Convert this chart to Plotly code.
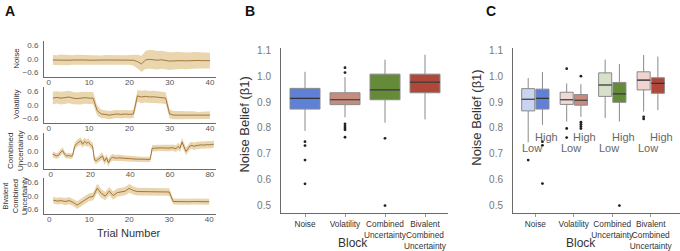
import plotly.graph_objects as go

W, H = 680, 251
FONT = "Liberation Sans, Arial, sans-serif"

# ---------------- Panel A data ----------------
trials_40 = list(range(1, 41))
trials_82 = list(range(1, 83))

noise_mean = [-0.05, -0.06, -0.04, -0.05, -0.06, -0.05, -0.04, -0.05, -0.05, -0.06,
              -0.05, -0.05, -0.06, -0.05, -0.05, -0.05, -0.05, -0.05, -0.05, -0.04,
              -0.06, -0.12, -0.22, -0.05, -0.02, -0.04, -0.06, -0.04, -0.08, -0.10,
              -0.09, -0.07, -0.08, -0.09, -0.08, -0.06, -0.07, -0.08, -0.09, -0.08]
noise_sd = [0.22, 0.22, 0.23, 0.22, 0.22, 0.21, 0.22, 0.22, 0.21, 0.22,
            0.22, 0.21, 0.21, 0.22, 0.21, 0.21, 0.22, 0.21, 0.21, 0.22,
            0.24, 0.30, 0.36, 0.40, 0.42, 0.42, 0.41, 0.40, 0.40, 0.39,
            0.38, 0.38, 0.37, 0.37, 0.36, 0.36, 0.36, 0.35, 0.35, 0.35]

vol_mean = [0.30, 0.33, 0.30, 0.32, 0.35, 0.30, 0.28, 0.30, 0.32, 0.30,
            0.30, -0.25, -0.40, -0.42, -0.45, -0.42, -0.40, -0.42, -0.40, -0.42,
            -0.40, 0.40, 0.35, 0.38, 0.35, 0.36, 0.33, 0.32, 0.30, -0.40,
            -0.45, -0.45, -0.45, -0.47, -0.45, -0.45, -0.48, -0.47, -0.45, -0.45]
vol_sd = [0.28, 0.27, 0.28, 0.27, 0.28, 0.27, 0.27, 0.28, 0.27, 0.27,
          0.27, 0.22, 0.19, 0.18, 0.18, 0.18, 0.18, 0.18, 0.18, 0.18,
          0.18, 0.26, 0.28, 0.27, 0.27, 0.27, 0.27, 0.26, 0.26, 0.20,
          0.18, 0.18, 0.17, 0.17, 0.17, 0.17, 0.17, 0.17, 0.17, 0.17]

comb_mean = [-0.14, -0.20, -0.22, -0.18, -0.05, 0.02, -0.15, -0.22, -0.20, -0.23,
             -0.20, 0.20, 0.32, 0.38, 0.45, 0.30, 0.42, 0.35, 0.38, 0.28,
             0.22, -0.40, -0.42, -0.36, -0.30, -0.22, -0.45, -0.30, -0.52, -0.35,
             -0.28, -0.30, -0.32, -0.30, -0.31, -0.32, -0.33, -0.33, -0.34, -0.34,
             -0.35, -0.35, -0.36, -0.36, -0.36, -0.37, -0.37, -0.37, -0.37, -0.37,
             0.12, 0.13, 0.14, 0.12, 0.13, 0.14, 0.13, 0.12, 0.14, 0.13,
             0.15, 0.12, 0.10, 0.20, 0.12, 0.40, 0.18, -0.02, 0.10, 0.22,
             0.25, 0.20, 0.24, 0.26, 0.25, 0.27, 0.26, 0.28, 0.28, 0.27,
             0.29, 0.30]
comb_sd = [0.13, 0.13, 0.12, 0.13, 0.14, 0.14, 0.13, 0.12, 0.12, 0.12,
           0.12, 0.15, 0.16, 0.16, 0.17, 0.16, 0.17, 0.16, 0.16, 0.16,
           0.15, 0.14, 0.14, 0.14, 0.15, 0.16, 0.16, 0.16, 0.17, 0.15,
           0.15, 0.14, 0.14, 0.14, 0.13, 0.13, 0.13, 0.13, 0.13, 0.12,
           0.12, 0.12, 0.12, 0.12, 0.12, 0.12, 0.12, 0.12, 0.12, 0.12,
           0.14, 0.14, 0.14, 0.14, 0.14, 0.14, 0.14, 0.14, 0.14, 0.14,
           0.14, 0.15, 0.15, 0.16, 0.16, 0.18, 0.17, 0.17, 0.16, 0.16,
           0.16, 0.16, 0.16, 0.16, 0.16, 0.16, 0.16, 0.16, 0.16, 0.16,
           0.16, 0.16]

biv_mean = [-0.18, -0.22, -0.20, -0.24, -0.20, -0.28, -0.40, -0.28, -0.15, -0.05,
            -0.02, 0.35, 0.12, 0.00, 0.22, 0.02, 0.15, 0.20, 0.22, 0.34,
            0.25, 0.20, 0.20, 0.18, 0.20, 0.19, 0.20, 0.20, 0.19, 0.18,
            -0.24, -0.25, -0.24, -0.25, -0.25, -0.24, -0.25, -0.25, -0.24, -0.25]
biv_sd = [0.15, 0.15, 0.15, 0.16, 0.16, 0.16, 0.17, 0.17, 0.17, 0.17,
          0.18, 0.20, 0.19, 0.18, 0.18, 0.18, 0.18, 0.18, 0.18, 0.19,
          0.18, 0.17, 0.17, 0.17, 0.17, 0.17, 0.17, 0.17, 0.17, 0.17,
          0.13, 0.13, 0.13, 0.13, 0.13, 0.13, 0.13, 0.13, 0.13, 0.13]

a_rows = ["Noise", "Volatility", "Combined<br>Uncertainty", "Bivalent<br>Combined<br>Uncertainty"]
a_ticks = [[0, 10, 20, 30, 40], [0, 10, 20, 30, 40], [0, 20, 40, 60, 80], [0, 10, 20, 30, 40]]

# ---------------- Panel B / C data ----------------
blocks = ["Noise", "Volatility", "Combined<br>Uncertainty", "Bivalent<br>Combined<br>Uncertainty"]

b_q1 = [0.873, 0.890, 0.909, 0.936]
b_med = [0.914, 0.909, 0.947, 0.977]
b_q3 = [0.953, 0.936, 1.008, 1.008]
b_lo = [0.789, 0.841, 0.820, 0.833]
b_hi = [1.017, 0.997, 1.064, 1.083]
b_out = [[0.747, 0.732, 0.676, 0.584],
         [1.033, 1.014, 0.816, 0.808, 0.800, 0.793, 0.764],
         [0.760, 0.500],
         []]
b_colors = ["#5F80D7", "#C68C7E", "#658B38", "#B04738"]

low_q1 = [0.866, 0.891, 0.922, 0.947]
low_med = [0.911, 0.909, 0.966, 0.985]
low_q3 = [0.952, 0.938, 1.013, 1.017]
low_lo = [0.745, 0.825, 0.838, 0.863]
low_hi = [0.993, 0.972, 1.064, 1.082]
low_out = [[0.676], [1.029, 0.798, 0.763], [], [0.843, 0.835]]
low_colors = ["#C9D4F1", "#EED9D4", "#D7E1C7", "#F1D4D0"]

high_q1 = [0.873, 0.888, 0.899, 0.934]
high_med = [0.914, 0.907, 0.932, 0.972]
high_q3 = [0.950, 0.929, 0.976, 0.994]
high_lo = [0.812, 0.843, 0.825, 0.869]
high_hi = [1.016, 0.969, 1.047, 1.076]
high_out = [[0.747, 0.733, 0.585], [1.000, 0.822, 0.814, 0.806, 0.798], [0.500], []]
high_colors = ["#5F80D7", "#C68C7E", "#658B38", "#B04738"]

y_ticks = [0.5, 0.6, 0.7, 0.8, 0.9, 1.0, 1.1]

# ---------------- helpers ----------------
def fx(p):
    return p / W


def fy(p):
    return 1 - p / H


fig = go.Figure()
layout = dict(
    width=W, height=H, margin=dict(l=0, r=0, t=0, b=0),
    paper_bgcolor="white", plot_bgcolor="white",
    showlegend=False, font=dict(family=FONT, color="#333"),
)

BAND = "rgb(234,214,174)"
LINE = "rgb(163,118,62)"
AXC = "#6a6a6a"

a_series = [
    (trials_40, noise_mean, noise_sd, [-1.2, 41.5]),
    (trials_40, vol_mean, vol_sd, [-1.2, 41.5]),
    (trials_82, comb_mean, comb_sd, [-3.4, 83.1]),
    (trials_40, biv_mean, biv_sd, [-1.3, 41.7]),
]
a_dom_px = [(38.5, 75.5), (85.5, 122.5), (132.5, 169.5), (178.5, 215.5)]
a_centers = [57, 104, 151, 197]
a_label_x = [17, 17, 16, 15]
a_label_size = [8, 8, 8, 7.5]

annotations = []
for i, (xs, m, s, xr) in enumerate(a_series):
    k = i + 1
    xa = "x" if k == 1 else f"x{k}"
    ya = "y" if k == 1 else f"y{k}"
    lower = [mi - si for mi, si in zip(m, s)]
    upper = [mi + si for mi, si in zip(m, s)]
    fig.add_trace(go.Scatter(x=xs, y=lower, mode="lines", line=dict(width=0, color=BAND),
                             xaxis=xa, yaxis=ya, hoverinfo="skip"))
    fig.add_trace(go.Scatter(x=xs, y=upper, mode="lines", line=dict(width=0, color=BAND),
                             fill="tonexty", fillcolor=BAND, xaxis=xa, yaxis=ya, hoverinfo="skip"))
    fig.add_trace(go.Scatter(x=xs, y=m, mode="lines", line=dict(width=1, color=LINE),
                             xaxis=xa, yaxis=ya))
    top, bot = a_dom_px[i]
    layout["xaxis" if k == 1 else f"xaxis{k}"] = dict(
        domain=[fx(44), fx(216)], anchor=ya, range=xr,
        tickvals=a_ticks[i], showgrid=False, zeroline=False,
        showline=True, linecolor=AXC, linewidth=1, ticks="", tickangle=0,
        tickfont=dict(size=8, color="#555", family=FONT), ticklabelstandoff=-3,
    )
    layout["yaxis" if k == 1 else f"yaxis{k}"] = dict(
        domain=[fy(bot), fy(top)], anchor=xa, range=[-0.8, 0.8],
        tickvals=[-0.6, 0.0, 0.6], ticktext=["\u22120.6", "0.0", "0.6"],
        showgrid=False, zeroline=False, showline=True, linecolor=AXC, linewidth=1,
        ticks="", tickfont=dict(size=8, color="#555", family=FONT), ticklabelstandoff=3,
    )
    annotations.append(dict(
        text=a_rows[i], x=fx(a_label_x[i]), y=fy(a_centers[i]), xref="paper", yref="paper",
        textangle=-90, showarrow=False, xanchor="center", yanchor="middle",
        font=dict(size=a_label_size[i], color="#333", family=FONT),
    ))

annotations.append(dict(text="Trial Number", x=fx(128), y=fy(235), xref="paper", yref="paper",
                        showarrow=False, xanchor="center", yanchor="middle",
                        font=dict(size=11, color="#333", family=FONT)))


def add_box(pos, q1, med, q3, lo, hi, outs, color, width, xa, ya):
    fig.add_trace(go.Box(
        x=[pos], q1=[q1], median=[med], q3=[q3], lowerfence=[lo], upperfence=[hi],
        width=width, fillcolor=color, line=dict(color="#8a8a8a", width=1),
        whiskerwidth=0, boxpoints=False, xaxis=xa, yaxis=ya, orientation="v",
    ))
    fig.add_trace(go.Scatter(
        x=[pos - width / 2, pos + width / 2], y=[med, med], mode="lines",
        line=dict(color="#333", width=1.2), xaxis=xa, yaxis=ya, hoverinfo="skip",
    ))
    if outs:
        fig.add_trace(go.Scatter(
            x=[pos] * len(outs), y=outs, mode="markers",
            marker=dict(size=2.8, color="#222"), xaxis=xa, yaxis=ya,
        ))


# Panel B
for i in range(4):
    add_box(i, b_q1[i], b_med[i], b_q3[i], b_lo[i], b_hi[i], b_out[i], b_colors[i], 0.75, "x5", "y5")

# Panel C
OFF = 0.185
for i in range(4):
    add_box(i - OFF, low_q1[i], low_med[i], low_q3[i], low_lo[i], low_hi[i], low_out[i],
            low_colors[i], 0.34, "x6", "y6")
    add_box(i + OFF, high_q1[i], high_med[i], high_q3[i], high_lo[i], high_hi[i], high_out[i],
            high_colors[i], 0.34, "x6", "y6")
    annotations.append(dict(text="Low", x=i - 0.08, y=0.721, xref="x6", yref="y6", showarrow=False,
                            font=dict(size=11, color="#666", family=FONT)))
    annotations.append(dict(text="High", x=i + 0.28, y=0.764, xref="x6", yref="y6", showarrow=False,
                            font=dict(size=11, color="#666", family=FONT)))

y_bot_px = 206.7 + 0.03 * 264
y_top_px = 206.7 - 0.61 * 264
for k, (l, r, xr) in {5: (281, 448, [-0.6, 3.575]), 6: (513, 680, [-0.58, 3.76])}.items():
    layout[f"xaxis{k}"] = dict(
        domain=[fx(l), fx(r)], anchor=f"y{k}", range=xr, tickvals=[0, 1, 2, 3], ticktext=blocks,
        showgrid=False, zeroline=False, showline=True, linecolor=AXC, linewidth=1,
        ticks="outside", ticklen=3, tickcolor="#999", tickangle=0,
        tickfont=dict(size=8.3, color="#333", family=FONT),
    )
    layout[f"yaxis{k}"] = dict(
        domain=[fy(y_bot_px), fy(y_top_px)], anchor=f"x{k}", range=[0.47, 1.11],
        tickvals=y_ticks, ticktext=[f"{v:.1f}" for v in y_ticks],
        showgrid=False, zeroline=False, showline=True, linecolor=AXC, linewidth=1,
        ticks="", tickfont=dict(size=10, color="#777", family=FONT), ticklabelstandoff=7,
    )

for txt, x, y in [("Noise Belief (\u03b21)", 245, 124), ("Noise Belief (\u03b21)", 477, 117)]:
    annotations.append(dict(text=txt, x=fx(x), y=fy(y), xref="paper", yref="paper", textangle=-90,
                            showarrow=False, xanchor="center", yanchor="middle",
                            font=dict(size=13, color="#333", family=FONT)))
for x in (353, 581):
    annotations.append(dict(text="Block", x=fx(x), y=fy(244.5), xref="paper", yref="paper",
                            showarrow=False, xanchor="center", yanchor="middle",
                            font=dict(size=12, color="#333", family=FONT)))

for lab, x in (("A", 3), ("B", 243), ("C", 484)):
    annotations.append(dict(text=f"<b>{lab}</b>", x=fx(x), y=fy(-2), xref="paper", yref="paper",
                            showarrow=False, xanchor="left", yanchor="top",
                            font=dict(size=14, color="#111", family=FONT)))

layout["annotations"] = annotations
fig.update_layout(**layout)
fig.write_html("out.html", config={"displayModeBar": False},
               post_script="document.body.style.margin='0';document.body.style.overflow='hidden';")
